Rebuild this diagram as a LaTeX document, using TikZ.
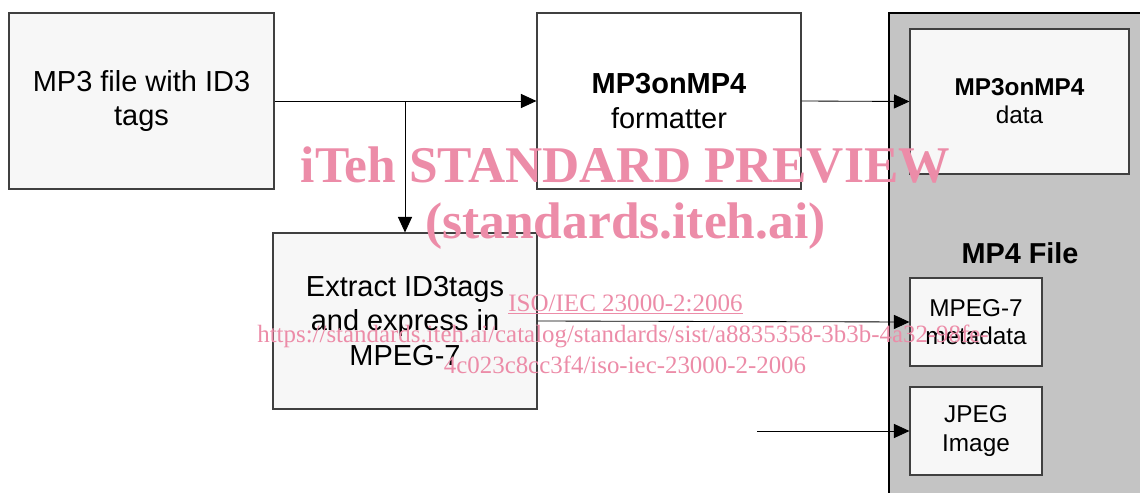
\documentclass[tikz,border=0pt]{standalone}
\usepackage{fontspec}
\setmainfont{Liberation Sans}
\newfontfamily\markfont{Liberation Serif}
\usetikzlibrary{arrows.meta}

\definecolor{boxgray}{RGB}{247,247,247}
\definecolor{filegray}{RGB}{196,196,196}
\definecolor{markpink}{RGB}{236,140,168}

\begin{document}
\begin{tikzpicture}[x=0.025cm,y=-0.025cm]
\tikzset{
% Two box styles: the big process boxes and the parts of the MP4 file
big box/.style={draw=black!75,line width=0.8pt,fill=boxgray,align=center,
  font=\fontsize{20.6}{24.5}\selectfont},
part box/.style={draw=black!75,line width=0.8pt,fill=boxgray,align=center,
  font=\fontsize{17.3}{20}\selectfont},
flow/.style={draw,line width=0.6pt,-{Triangle[length=11pt,width=10pt]}},
wmark/.style={text=markpink,anchor=base,inner sep=0pt}
}
\useasboundingbox (0,0) rectangle (1140,493);
\clip (0,0) rectangle (1140,493);

% The MP4 file runs off the right and bottom edge
\fill[filegray] (889,13) rectangle (1150,500);
\draw[line width=0.8pt] (889,500) -- (889,13) -- (1150,13);
\node(mp4label)[anchor=base,inner sep=0pt,font=\bfseries\fontsize{20.5}{22}\selectfont] at (1020,263) {MP4 File};

% The boxes
\node(mp3)[big box,minimum width=265*0.025cm,minimum height=176*0.025cm] at (141.5,101)
  {MP3 file with ID3\\ tags};
\node(fmt)[big box,fill=white,minimum width=264*0.025cm,minimum height=176*0.025cm] at (669,101)
  {\textbf{MP3onMP4}\\ formatter};
\node(extract)[big box,minimum width=264*0.025cm,minimum height=176*0.025cm] at (405,321)
  {Extract ID3tags\\ and express in\\ MPEG-7};
\node(data)[part box,minimum width=219*0.025cm,minimum height=145*0.025cm] at (1019.5,101.5)
  {\textbf{MP3onMP4}\\ data};
\node(meta)[part box,minimum width=132*0.025cm,minimum height=88*0.025cm] at (976,322)
  {MPEG-7\\ metadata};
\node(jpeg)[part box,minimum width=132*0.025cm,minimum height=88*0.025cm] at (976,431)
  {JPEG\\ Image};

% The connectors
\coordinate(split) at (405,101);
\coordinate(jpegin) at (757,431);
\draw[flow] (mp3.east) -- (fmt.west);
\draw[flow] (split) -- (extract.north);
\draw[flow] (fmt.east) -- (data.west);
\draw[flow] (extract.east) -- (meta.west);
\draw[flow] (jpegin) -- (jpeg.west);

% Watermark over everything
\node(wm1)[wmark,font=\markfont\bfseries\fontsize{36.6}{40}\selectfont] at (625.5,182) {iTeh STANDARD PREVIEW};
\node(wm2)[wmark,font=\markfont\bfseries\fontsize{36.6}{40}\selectfont] at (625.5,238) {(standards.iteh.ai)};
\node(wm3)[wmark,font=\markfont\fontsize{17.8}{20}\selectfont] at (625.5,311) {\underline{ISO/IEC 23000-2:2006}};
\node(wm4)[wmark,font=\markfont\fontsize{17.7}{20}\selectfont] at (623,342) {https://standards.iteh.ai/catalog/standards/sist/a8835358-3b3b-4a32-98fe-};
\node(wm5)[wmark,font=\markfont\fontsize{17.7}{20}\selectfont] at (625,373) {4c023c8cc3f4/iso-iec-23000-2-2006};
\end{tikzpicture}
\end{document}
